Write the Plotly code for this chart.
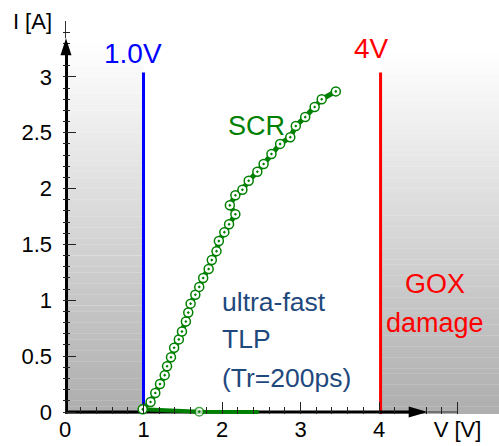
import numpy as np
import plotly.graph_objects as go

# ---------------- data ----------------
scr_v = [0.99, 1.09, 1.15, 1.21, 1.27, 1.30, 1.35, 1.39, 1.45, 1.49, 1.54, 1.57, 1.60,
         1.66, 1.71, 1.76, 1.83, 1.87, 1.93, 1.96, 2.03, 2.09, 2.17, 2.10, 2.17, 2.26,
         2.34, 2.45, 2.53, 2.63, 2.74, 2.87, 2.94, 3.06, 3.18, 3.27, 3.45]
scr_i = [0.024, 0.09, 0.17, 0.25, 0.33, 0.41, 0.49, 0.575, 0.65, 0.72, 0.81, 0.89, 0.97,
         1.05, 1.12, 1.20, 1.28, 1.36, 1.44, 1.53, 1.61, 1.68, 1.77, 1.85, 1.94, 1.99,
         2.07, 2.15, 2.22, 2.31, 2.40, 2.46, 2.56, 2.64, 2.73, 2.80, 2.87]
low_v = [0.99, 1.71, 2.46]
low_i = [0.024, 0.003, 0.0]
low_marker_size = [8.5, 8.5, 0]

x_tick_vals = [0, 1, 2, 3, 4, 5]
x_tick_text = ["0", "1", "2", "3", "4", "V [V]"]
y_tick_vals = [0, 0.5, 1, 1.5, 2, 2.5, 3, 3.5]
y_tick_text = ["0", "0.5", "1", "1.5", "2", "2.5", "3", "I [A]"]

v_limit_low = 1.0
v_limit_high = 4.02
limit_top = 3.04

W, H = 499, 446
L, R, T, B = 63, 0, 21, 32
PX_PER_V = 78.5
X_MIN = -2 / PX_PER_V
X_MAX = X_MIN + (W - L - R) / PX_PER_V
Y_MAX = 3.5
PX_PER_A = 391.0 / Y_MAX
Y_MIN = Y_MAX - (H - T - B) / PX_PER_A

GREEN = "#008000"
NAVY = "#1F497D"

fig = go.Figure()

# ---------------- gradient background bands ----------------
shapes = []
def gradient(x0, x1, top, n=66):
    edges = np.linspace(0, top, n + 1)
    for k in range(n):
        f = (edges[k] + edges[k + 1]) / 2 / top
        g = int(round(174 + (255 - 174) * f))
        shapes.append(dict(type="rect", xref="x", yref="y", x0=x0, x1=x1,
                           y0=(edges[k] if k else Y_MIN), y1=edges[k + 1] + 0.002, layer="below",
                           line=dict(width=0), fillcolor=f"rgb({g},{g},{g})"))

gradient(0, v_limit_low, 3.30)
gradient(v_limit_high, 7, 3.22)

# limit lines
shapes.append(dict(type="line", xref="x", yref="y", x0=v_limit_low, x1=v_limit_low,
                   y0=Y_MIN, y1=limit_top, layer="below", line=dict(color="#0000FF", width=3)))
shapes.append(dict(type="line", xref="x", yref="y", x0=v_limit_high, x1=v_limit_high,
                   y0=Y_MIN, y1=limit_top, layer="below", line=dict(color="#FF0000", width=3)))

# axes (arrow style)
x_arrow_tip = 4.62
y_arrow_tip = 3.345
dx = 1.0 / PX_PER_V
dy = 1.0 / PX_PER_A
shapes.append(dict(type="line", xref="x", yref="y",
                   x0=0, x1=x_arrow_tip - 18 * dx, y0=0, y1=0,
                   layer="below", line=dict(color="black", width=3)))
shapes.append(dict(type="line", xref="x", yref="y",
                   x0=x_arrow_tip, x1=5, y0=0, y1=0,
                   layer="below", line=dict(color="#333", width=1)))
shapes.append(dict(type="line", xref="x", yref="y",
                   x0=1.5 * dx, x1=1.5 * dx, y0=-1.5 * dy, y1=y_arrow_tip - 16 * dy,
                   layer="below", line=dict(color="black", width=3)))
shapes.append(dict(type="line", xref="x", yref="y",
                   x0=0.5 * dx, x1=0.5 * dx, y0=y_arrow_tip, y1=Y_MAX,
                   layer="below", line=dict(color="#333", width=1)))
# arrow heads
shapes.append(dict(type="path", xref="paper", yref="paper", xsizemode="pixel", ysizemode="pixel",
                   xanchor=(x_arrow_tip - X_MIN) / (X_MAX - X_MIN),
                   yanchor=(0 - Y_MIN) / (Y_MAX - Y_MIN),
                   path="M0,0 L-19,5.5 L-19,-5.5 Z", fillcolor="black", line=dict(width=0)))
shapes.append(dict(type="path", xref="paper", yref="paper", xsizemode="pixel", ysizemode="pixel",
                   xanchor=(1 * dx - X_MIN) / (X_MAX - X_MIN),
                   yanchor=(y_arrow_tip - Y_MIN) / (Y_MAX - Y_MIN),
                   path="M0,0 L-5.5,-17 L5.5,-17 Z", fillcolor="black", line=dict(width=0)))

# ---------------- data traces ----------------
fig.add_trace(go.Scatter(x=low_v, y=low_i, mode="lines+markers",
                         line=dict(color=GREEN, width=4),
                         marker=dict(symbol="circle-dot", size=low_marker_size, color="white",
                                     line=dict(color=GREEN, width=1.5)),
                         cliponaxis=False, showlegend=False))
fig.add_trace(go.Scatter(x=scr_v, y=scr_i, mode="lines+markers",
                         line=dict(color=GREEN, width=5),
                         marker=dict(symbol="circle-dot", size=9, color="white",
                                     line=dict(color=GREEN, width=1.5)),
                         cliponaxis=False, showlegend=False))

# ---------------- annotations ----------------
SANS = "Liberation Sans, Arial"
ann = []
def text(x, y, s, color, size, family=SANS, xanchor="center"):
    ann.append(dict(x=x, y=y, xref="x", yref="y", text=s, showarrow=False,
                    xanchor=xanchor, yanchor="middle",
                    font=dict(color=color, size=size, family=family)))

text(0.866, 3.21, "1.0V", "#0000FF", 28)
text(3.90, 3.25, "4V", "#FF0000", 28)
text(2.443, 2.558, "SCR", GREEN, 27)
text(1.975, 0.988, "ultra-fast", NAVY, 26.5, SANS, "left")
text(1.975, 0.653, "TLP", NAVY, 26.5, SANS, "left")
text(1.975, 0.304, "(Tr=200ps)", NAVY, 26.5, SANS, "left")
text(4.71, 1.149, "GOX", "#FF0000", 27)
text(4.71, 0.796, "damage", "#FF0000", 27)

tickfont = dict(family=SANS, size=22, color="black")
fig.update_layout(
    width=W, height=H,
    margin=dict(l=L, r=R, t=T, b=B, pad=0),
    paper_bgcolor="white", plot_bgcolor="white",
    shapes=shapes, annotations=ann,
    xaxis=dict(range=[X_MIN, X_MAX], showgrid=False, zeroline=False, showline=False,
               tickmode="array", tickvals=x_tick_vals, ticktext=x_tick_text,
               ticks="inside", ticklen=12, tickwidth=1, tickcolor="#222",
               minor=dict(tickmode="array", tickvals=list(np.round(np.arange(0, 5.01, 0.2), 2)),
                          ticks="inside", ticklen=7, tickwidth=1, tickcolor="#222"),
               tickfont=tickfont, fixedrange=True),
    yaxis=dict(range=[Y_MIN, Y_MAX], showgrid=False, zeroline=False, showline=False,
               tickmode="array", tickvals=y_tick_vals, ticktext=y_tick_text,
               ticks="inside", ticklen=13, tickwidth=1, tickcolor="#222",
               minor=dict(tickmode="array", tickvals=list(np.round(np.arange(0, 3.51, 0.1), 2)),
                          ticks="inside", ticklen=7, tickwidth=1, tickcolor="#222"),
               ticklabelstandoff=10,
               tickfont=tickfont, fixedrange=True),
    showlegend=False,
)

fig.write_html("out.html", config=dict(displayModeBar=False))
